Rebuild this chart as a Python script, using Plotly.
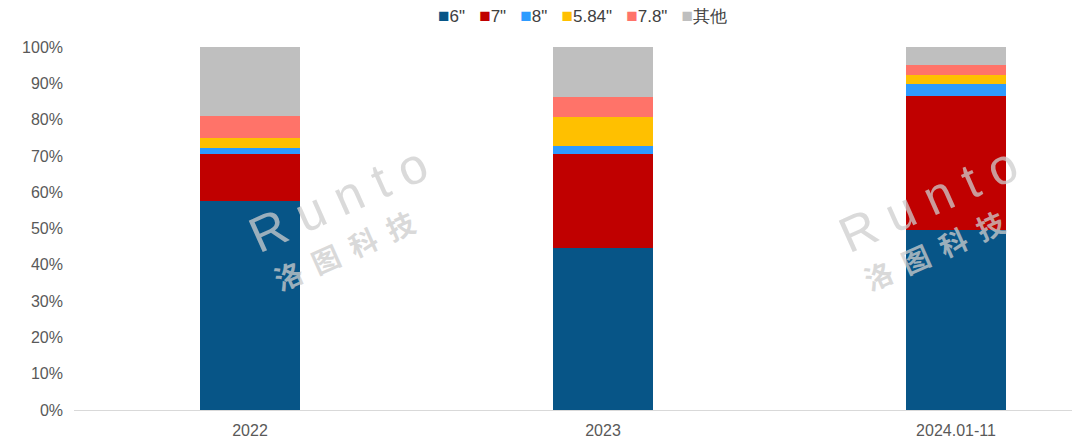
import plotly.graph_objects as go

categories = ["2022", "2023", "2024.01-11"]
series_names = ['6"', '7"', '8"', '5.84"', '7.8"', '其他']
s_6 = [57.5, 44.6, 49.6]
s_7 = [12.9, 26.0, 36.9]
s_8 = [1.9, 2.1, 3.4]
s_584 = [2.5, 8.0, 2.5]
s_78 = [6.2, 5.4, 2.6]
s_other = [19.0, 13.9, 5.0]
y_ticks = [0, 10, 20, 30, 40, 50, 60, 70, 80, 90, 100]

series_values = [s_6, s_7, s_8, s_584, s_78, s_other]
colors = ["#075587", "#C00000", "#2E9BFF", "#FFC000", "#FF7369", "#BFBFBF"]

fig = go.Figure()
for name, vals, c in zip(series_names, series_values, colors):
    fig.add_trace(go.Bar(
        x=list(range(len(categories))), y=vals, name=name, showlegend=False,
        marker=dict(color=c, line=dict(width=0)), width=0.283,
    ))

# page has 8px body margin; work in figure coordinates
L, W = 66, 1014
T, H = 39, 363

def px(x, y):
    # screen pixel -> paper
    return (x - 8 - L) / W, (T + H - (y - 8)) / H

annos = []
for cx in [338, 928]:
    x1, y1 = px(cx, 200)
    annos.append(dict(xref="paper", yref="paper", x=x1, y=y1, text="R u n t o",
                      showarrow=False, textangle=-24, xanchor="center", yanchor="middle",
                      font=dict(family="Liberation Sans, Arial", size=50, color="rgba(205,205,205,0.75)")))
    x2, y2 = px(cx + 6, 250)
    annos.append(dict(xref="paper", yref="paper", x=x2, y=y2, text="<b>洛  图  科  技</b>",
                      showarrow=False, textangle=-24, xanchor="center", yanchor="middle",
                      font=dict(family="Noto Sans CJK SC", size=28, color="rgba(205,205,205,0.75)")))

# legend as a single line of text
parts = []
for name, c in zip(series_names, colors):
    parts.append(f'<span style="color:{c};font-size:19px">■</span>{name}')
legend_text = "&nbsp;&nbsp;&nbsp;".join(parts)
lx, ly = px(582, 16)
annos.append(dict(xref="paper", yref="paper", x=lx, y=ly, text=legend_text, showarrow=False,
                  xanchor="center", yanchor="middle",
                  font=dict(family="Liberation Sans, Arial", size=17, color="#404040")))

fig.update_layout(
    barmode="stack",
    width=1080, height=448,
    margin=dict(l=L, r=0, t=T, b=448 - T - H),
    plot_bgcolor="white", paper_bgcolor="white",
    font=dict(family="Liberation Sans, Arial", color="#595959", size=16),
    showlegend=False,
    xaxis=dict(range=[-0.4986, -0.4986 + W / 353], tickmode="array", tickvals=list(range(len(categories))),
               ticktext=categories, showline=True, linecolor="#D9D9D9", linewidth=1,
               showgrid=False, ticks="", ticklabelstandoff=6, tickfont=dict(size=16, color="#595959")),
    yaxis=dict(range=[0, 100], tickmode="array", tickvals=y_ticks,
               ticktext=[f"{v}%" for v in y_ticks], showgrid=False, zeroline=False,
               showline=False, ticks="", ticklabelstandoff=10, tickfont=dict(size=16, color="#595959")),
    annotations=annos,
)

fig.write_html("out.html")
